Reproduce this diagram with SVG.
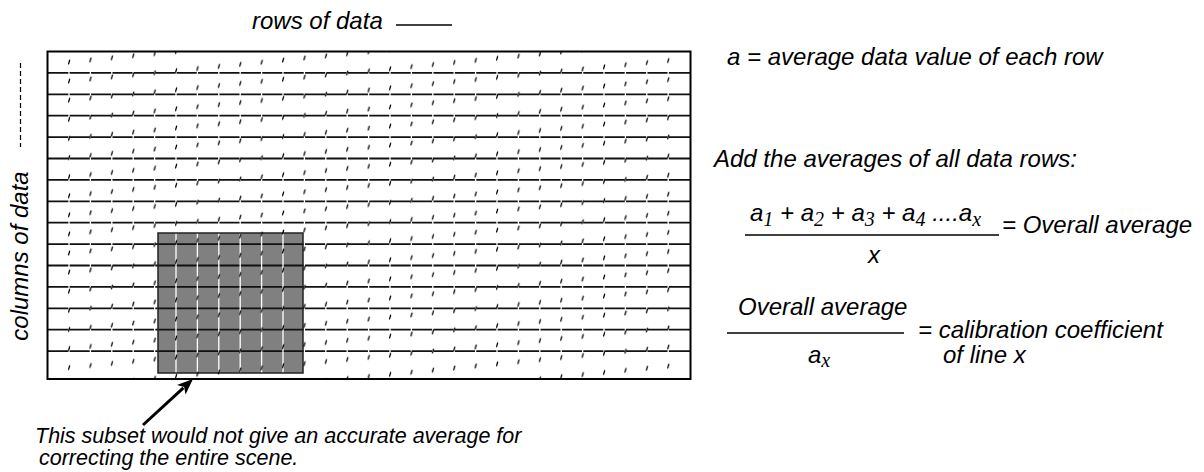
<svg xmlns="http://www.w3.org/2000/svg" width="1204" height="472" viewBox="0 0 1204 472">
<defs>
<style>
text{font-family:"Liberation Sans",Arial,sans-serif;font-style:italic;font-size:24px;fill:#000}
.sub{font-family:"Liberation Serif","Times New Roman",serif;font-size:20px}
.note{font-size:21.5px}
.hl{stroke:#111;stroke-width:1.8}
.wl{stroke:#fff;stroke-width:1.3}
.rule{stroke:#000;stroke-width:1.3}
</style>
<clipPath id="gridclip"><rect x="47.5" y="51.5" width="643" height="327.5"/></clipPath>
<pattern id="tickpat" patternUnits="userSpaceOnUse" width="21.4" height="19.1" patternTransform="translate(58.3,53.5) skewY(-5.6)">
<path d="M11.3,7.9 L10.3,11.3" stroke="#000" stroke-width="1.3" stroke-linecap="round"/>
</pattern>
<marker id="ah" markerUnits="userSpaceOnUse" markerWidth="17" markerHeight="13" refX="3" refY="6.5" orient="auto">
<path d="M0,0 L16,6.5 L0,13 L4,6.5 z" fill="#000"/>
</marker>
</defs>
<rect width="1204" height="472" fill="#fff"/>

<g id="grid">
<rect x="47.5" y="51.5" width="643" height="327.5" fill="#fff"/>
<rect id="subset-fill" x="158" y="233" width="145" height="140" fill="#808080"/>
<g id="rows">
<line class="hl" x1="47.5" y1="72.9" x2="690.5" y2="72.9"/>
<line class="hl" x1="47.5" y1="94.3" x2="690.5" y2="94.3"/>
<line class="hl" x1="47.5" y1="115.7" x2="690.5" y2="115.7"/>
<line class="hl" x1="47.5" y1="137.1" x2="690.5" y2="137.1"/>
<line class="hl" x1="47.5" y1="158.5" x2="690.5" y2="158.5"/>
<line class="hl" x1="47.5" y1="179.9" x2="690.5" y2="179.9"/>
<line class="hl" x1="47.5" y1="201.3" x2="690.5" y2="201.3"/>
<line class="hl" x1="47.5" y1="222.7" x2="690.5" y2="222.7"/>
<line class="hl" x1="47.5" y1="244.1" x2="690.5" y2="244.1"/>
<line class="hl" x1="47.5" y1="265.5" x2="690.5" y2="265.5"/>
<line class="hl" x1="47.5" y1="286.9" x2="690.5" y2="286.9"/>
<line class="hl" x1="47.5" y1="308.3" x2="690.5" y2="308.3"/>
<line class="hl" x1="47.5" y1="329.7" x2="690.5" y2="329.7"/>
<line class="hl" x1="47.5" y1="351.1" x2="690.5" y2="351.1"/>
</g>
<g id="column-gaps" class="wl">
<line x1="69" y1="53" x2="69" y2="377.5"/>
<line x1="90.4" y1="53" x2="90.4" y2="377.5"/>
<line x1="111.8" y1="53" x2="111.8" y2="377.5"/>
<line x1="133.2" y1="53" x2="133.2" y2="377.5"/>
<line x1="154.6" y1="53" x2="154.6" y2="377.5"/>
<line x1="176" y1="53" x2="176" y2="377.5"/>
<line x1="197.4" y1="53" x2="197.4" y2="377.5"/>
<line x1="218.8" y1="53" x2="218.8" y2="377.5"/>
<line x1="240.2" y1="53" x2="240.2" y2="377.5"/>
<line x1="261.6" y1="53" x2="261.6" y2="377.5"/>
<line x1="283" y1="53" x2="283" y2="377.5"/>
<line x1="304.4" y1="53" x2="304.4" y2="377.5"/>
<line x1="325.8" y1="53" x2="325.8" y2="377.5"/>
<line x1="347.2" y1="53" x2="347.2" y2="377.5"/>
<line x1="368.6" y1="53" x2="368.6" y2="377.5"/>
<line x1="390" y1="53" x2="390" y2="377.5"/>
<line x1="411.4" y1="53" x2="411.4" y2="377.5"/>
<line x1="432.8" y1="53" x2="432.8" y2="377.5"/>
<line x1="454.2" y1="53" x2="454.2" y2="377.5"/>
<line x1="475.6" y1="53" x2="475.6" y2="377.5"/>
<line x1="497" y1="53" x2="497" y2="377.5"/>
<line x1="518.4" y1="53" x2="518.4" y2="377.5"/>
<line x1="539.8" y1="53" x2="539.8" y2="377.5"/>
<line x1="561.2" y1="53" x2="561.2" y2="377.5"/>
<line x1="582.6" y1="53" x2="582.6" y2="377.5"/>
<line x1="604" y1="53" x2="604" y2="377.5"/>
<line x1="625.4" y1="53" x2="625.4" y2="377.5"/>
<line x1="646.8" y1="53" x2="646.8" y2="377.5"/>
<line x1="668.2" y1="53" x2="668.2" y2="377.5"/>
</g>
<rect id="subset-outline" x="158" y="233" width="145" height="140" fill="none" stroke="#222" stroke-width="1.5"/>
<rect id="ticks" x="58" y="51.5" width="621" height="327.5" fill="url(#tickpat)" clip-path="url(#gridclip)"/>
<rect id="grid-border" x="47.5" y="51.5" width="643" height="327.5" fill="none" stroke="#000" stroke-width="2"/>
</g>

<g id="axis-labels">
<text x="252" y="29">rows of data</text>
<line x1="396" y1="25" x2="452" y2="25" stroke="#000" stroke-width="1.5"/>
<text transform="translate(28,256) rotate(-90)" text-anchor="middle">columns of data</text>
<line x1="20.5" y1="63" x2="20.5" y2="147" stroke="#000" stroke-width="1.2" stroke-dasharray="5 3"/>
</g>

<g id="explanation">
<text x="727" y="65">a = average data value of each row</text>
<text x="714" y="167">Add the averages of all data rows:</text>
<text x="750" y="221">a<tspan class="sub" dy="5">1</tspan><tspan dy="-5"> + a</tspan><tspan class="sub" dy="5">2</tspan><tspan dy="-5"> + a</tspan><tspan class="sub" dy="5">3</tspan><tspan dy="-5"> + a</tspan><tspan class="sub" dy="5">4</tspan><tspan dy="-5"> ....a</tspan><tspan class="sub" dy="5">x</tspan></text>
<line class="rule" x1="745" y1="235" x2="999" y2="235"/>
<text x="868" y="263">x</text>
<text x="1002" y="233">= Overall average</text>
<text x="738" y="315">Overall average</text>
<line class="rule" x1="727" y1="333" x2="904" y2="333"/>
<text x="808" y="363">a<tspan class="sub" dy="4">x</tspan></text>
<text x="918" y="338">= calibration coefficient</text>
<text x="943" y="363">of line x</text>
</g>

<g id="connectors">
<line x1="143" y1="425" x2="183.4" y2="387.8" stroke="#000" stroke-width="3" marker-end="url(#ah)"/>
</g>

<g id="note">
<text class="note" x="35" y="443">This subset would not give an accurate average for</text>
<text class="note" x="39" y="465">correcting the entire scene.</text>
</g>
</svg>
